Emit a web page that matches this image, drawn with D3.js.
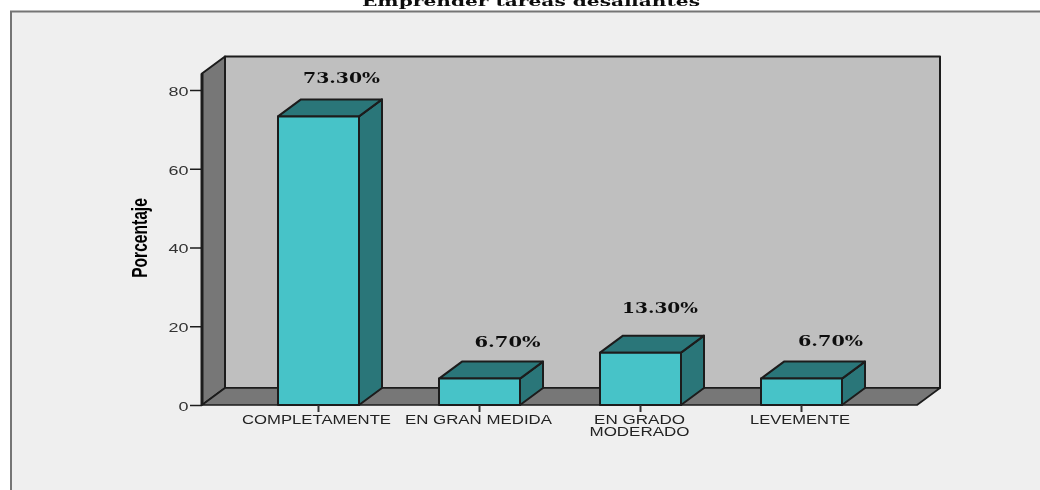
<!DOCTYPE html>
<html><head><meta charset="utf-8">
<script src="https://cdn.jsdelivr.net/npm/d3@7/dist/d3.min.js"></script>
<style>html,body{margin:0;padding:0;background:#fff}svg{display:block}</style>
</head><body><svg id="c" width="1040" height="490"></svg>
<script>
const categories = [["COMPLETAMENTE"],["EN GRAN MEDIDA"],["EN GRADO","MODERADO"],["LEVEMENTE"]];
const values = [73.3, 6.7, 13.3, 6.7];
const valueLabels = ["73.30%","6.70%","13.30%","6.70%"];
const yTicks = [0,20,40,60,80];
const titleText = "Emprender tareas desafiantes";
const yTitle = "Porcentaje";

const labelShift = [[23,-33],[28,-31.6],[19.5,-39.6],[29,-32.6]];
const labelWidth = [77,66,76,65];
const catWidth = [[149],[147],[91,100],[100]];
const catShift = [-2,-1,-1,-1.5];

const dx = 23, dy = -17;
const svg = d3.select("#c");
const defs = svg.append("defs");
defs.append("filter").attr("id","soft").attr("x","-5%").attr("y","-5%").attr("width","110%").attr("height","110%")
  .append("feGaussianBlur").attr("stdDeviation",0.45);
const root = svg.append("g").attr("filter","url(#soft)");

const y = d3.scaleLinear().domain([0,80]).range([405,90]);
const x = d3.scaleBand().domain(d3.range(categories.length)).range([238,882]).paddingInner(80/161).paddingOuter(40/161);
const wallL = 202, wallR = 917, wallTop = 73.5;
const stroke = "#1c1c1c";
const poly = (pts,fill,sw=2) => root.append("polygon").attr("points",pts.map(p=>p.join(",")).join(" "))
  .attr("fill",fill).attr("stroke",stroke).attr("stroke-width",sw).attr("stroke-linejoin","round");

// outer frame: open on the right and at the bottom
root.append("path").attr("d","M11,520V11.5H1060V520Z").attr("fill","#efefef").attr("stroke","#757575").attr("stroke-width",2);

// title
root.append("text").attr("x",531).attr("y",5.5).attr("text-anchor","middle")
  .attr("font-family","'DejaVu Serif'").attr("font-weight","bold").attr("font-size",13)
  .attr("textLength",338).attr("lengthAdjust","spacingAndGlyphs").attr("fill","#111").text(titleText);

// walls
poly([[wallL+dx,wallTop+dy],[wallR+dx,wallTop+dy],[wallR+dx,405+dy],[wallL+dx,405+dy]],"#bfbfbf");
poly([[wallL,wallTop],[wallL+dx,wallTop+dy],[wallL+dx,405+dy],[wallL,405]],"#777777");
poly([[wallL,405],[wallL+dx,405+dy],[wallR+dx,405+dy],[wallR,405]],"#777777",1.6);
root.append("line").attr("x1",wallL).attr("x2",wallL).attr("y1",wallTop).attr("y2",405).attr("stroke","#1c1c1c").attr("stroke-width",3);

// y axis
const yAxis = root.append("g").attr("transform",`translate(${wallL},0)`)
  .call(d3.axisLeft(y).tickValues(yTicks).tickSize(12).tickPadding(1.5).tickFormat(d3.format("d")));
yAxis.select(".domain").remove();
yAxis.selectAll("line").attr("stroke","#1c1c1c").attr("stroke-width",1.5);
yAxis.selectAll("text").attr("font-family","'Liberation Sans'").attr("font-size",12.5).attr("fill","#333")
  .attr("dy","0.42em").attr("textLength",20).attr("lengthAdjust","spacingAndGlyphs");
yAxis.selectAll("text").filter(d=>d===0).attr("textLength",10);

// y title
root.append("text").attr("transform","translate(147,238) rotate(-90) scale(1.04,1.5)")
  .attr("text-anchor","middle").attr("font-family","'Liberation Sans'").attr("font-weight","bold")
  .attr("font-size",15).attr("fill","#000").text(yTitle);

// bars
values.forEach((v,i)=>{
  const x0 = x(i), x1 = x0 + x.bandwidth(), yt = y(v), yb = y(0);
  poly([[x1,yt],[x1+dx,yt+dy],[x1+dx,yb+dy],[x1,yb]],"#2c7679");
  poly([[x0,yt],[x0+dx,yt+dy],[x1+dx,yt+dy],[x1,yt]],"#2c7679");
  poly([[x0,yt],[x1,yt],[x1,yb],[x0,yb]],"#47c3c8");
  const cx = (x0+x1)/2;
  root.append("text").attr("x",cx+labelShift[i][0]).attr("y",yt+labelShift[i][1]).attr("text-anchor","middle")
    .attr("font-family","'DejaVu Serif'").attr("font-weight","bold").attr("font-size",14.5)
    .attr("textLength",labelWidth[i]).attr("lengthAdjust","spacingAndGlyphs").attr("fill","#111").text(valueLabels[i]);
  // x tick
  root.append("line").attr("x1",cx).attr("x2",cx).attr("y1",405).attr("y2",412).attr("stroke","#333").attr("stroke-width",2);
  categories[i].forEach((ln,j)=>{
    root.append("text").attr("x",cx+catShift[i]).attr("y",423.5+j*12).attr("text-anchor","middle")
      .attr("font-family","'Liberation Sans'").attr("font-size",12.5).attr("fill","#222")
      .attr("textLength",catWidth[i][j]).attr("lengthAdjust","spacingAndGlyphs").text(ln);
  });
});
</script></body></html>
